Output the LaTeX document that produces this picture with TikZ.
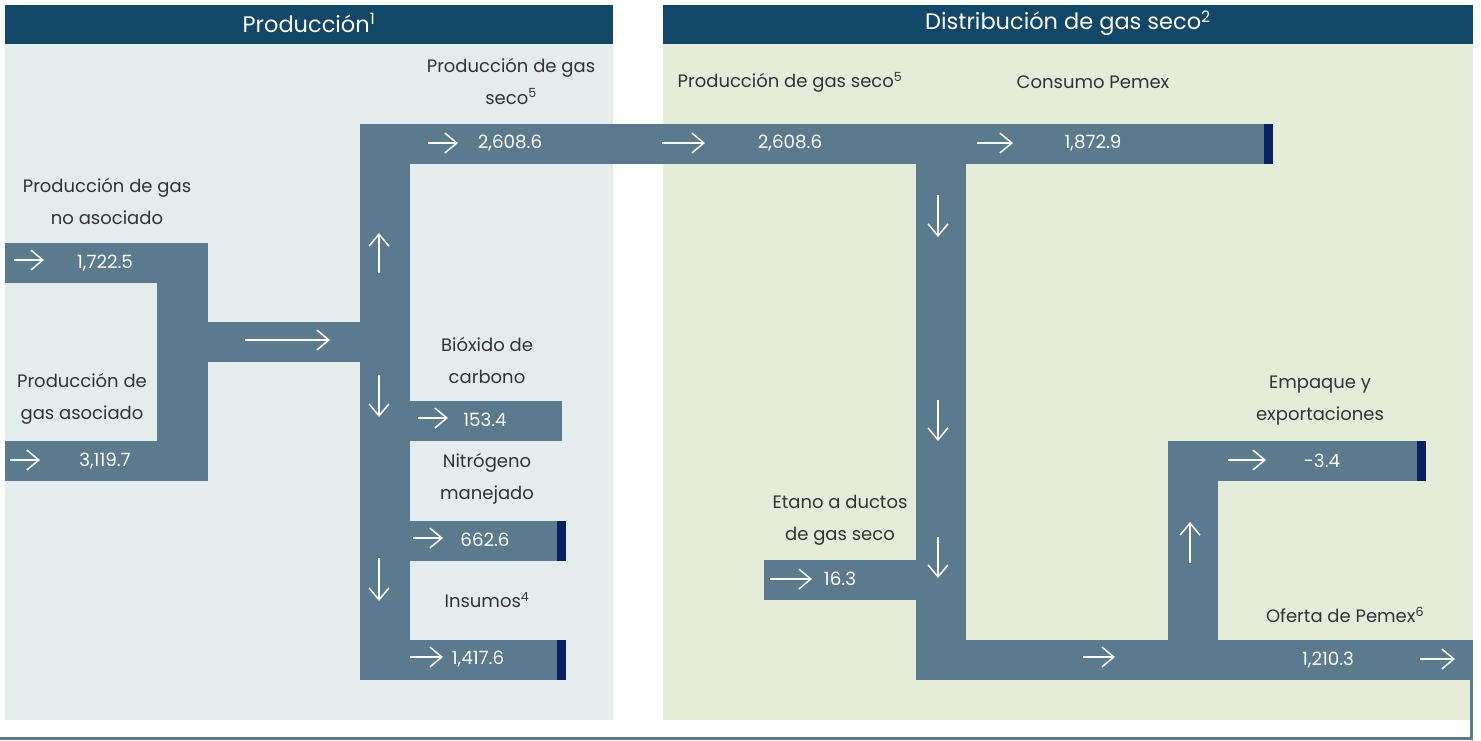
\documentclass[tikz,border=0pt]{standalone}
\usepackage{fontspec}
\setmainfont{Poppins}
\usetikzlibrary{arrows.meta}
\definecolor{headblue}{HTML}{134767}
\definecolor{prodbg}{HTML}{E5EDEC}
\definecolor{distbg}{HTML}{E6ECDA}
\definecolor{flowgray}{HTML}{5B7A8E}
\definecolor{capnavy}{HTML}{0A2160}
\definecolor{labelgray}{HTML}{333333}

\begin{document}
\begin{tikzpicture}[
    x=1pt, y=-1pt,
    band/.style={fill=flowgray},
    endcap/.style={fill=capnavy},
    flowarrow/.style={draw=white, line width=1.5pt, -{Straight Barb[length=12pt,width=20pt]}},
    label/.style={text=labelgray, font=\fontsize{18}{32}\selectfont, align=center, inner sep=0pt},
    value/.style={text=white, font=\fontsize{18.3}{20}\selectfont, inner sep=0pt},
    header/.style={text=white, font=\fontsize{22.5}{26}\selectfont, inner sep=0pt}
]
    \useasboundingbox (0,0) rectangle (1481,740);

    % panels
    \fill[headblue] (5,5) rectangle (613,44);
    \fill[prodbg] (5,44) rectangle (613,720);
    \fill[headblue] (663,5) rectangle (1473,44);
    \fill[distbg] (663,44) rectangle (1473,720);
    \fill[flowgray] (0,737) rectangle (1473,740);
    \fill[flowgray] (1470,680) rectangle (1473,740);

    \node[header] (prodhead) at (309,23) {Producción\textsuperscript{1}};
    \node[header] (disthead) at (1068,23) {Distribución de gas seco\textsuperscript{2}};

    % production bands
    \fill[band] (5,243) rectangle (208,283);
    \fill[band] (5,441) rectangle (208,481);
    \fill[band] (157,243) rectangle (208,481);
    \fill[band] (208,322) rectangle (360,362);
    \fill[band] (360,124) rectangle (410,680);
    \fill[band] (360,124) rectangle (1264,164);
    \fill[band] (360,401) rectangle (562,441);
    \fill[band] (360,521) rectangle (557,561);
    \fill[band] (360,640) rectangle (557,680);
    \fill[endcap] (557,521) rectangle (566,561);
    \fill[endcap] (557,640) rectangle (566,680);
    \fill[endcap] (1264,124) rectangle (1273,164);

    % distribution bands
    \fill[band] (916,164) rectangle (966,680);
    \fill[band] (764,560) rectangle (916,600);
    \fill[band] (916,640) rectangle (1473,680);
    \fill[band] (1168,441) rectangle (1218,640);
    \fill[band] (1168,441) rectangle (1417,481);
    \fill[endcap] (1417,441) rectangle (1426,481);

    % arrows
    \draw[flowarrow] (14,260) -- (44,260);
    \draw[flowarrow] (10,460) -- (40,460);
    \draw[flowarrow] (245,340) -- (330,340);
    \draw[flowarrow] (379,273) -- (379,233);
    \draw[flowarrow] (379,375) -- (379,417);
    \draw[flowarrow] (379,558) -- (379,601);
    \draw[flowarrow] (428,143) -- (458,143);
    \draw[flowarrow] (418,418) -- (448,418);
    \draw[flowarrow] (413,538) -- (443,538);
    \draw[flowarrow] (410,657) -- (443,657);
    \draw[flowarrow] (662,143) -- (705,143);
    \draw[flowarrow] (977,143) -- (1013,143);
    \draw[flowarrow] (938,195) -- (938,237);
    \draw[flowarrow] (938,400) -- (938,441);
    \draw[flowarrow] (938,537) -- (938,578);
    \draw[flowarrow] (770,579) -- (812,579);
    \draw[flowarrow] (1083,657) -- (1115,657);
    \draw[flowarrow] (1420,659) -- (1455,659);
    \draw[flowarrow] (1190,563) -- (1190,522);
    \draw[flowarrow] (1228,460) -- (1266,460);

    % values
    \node[value] (noasoc) at (105,263) {1,722.5};
    \node[value] (asoc) at (105,461) {3,119.7};
    \node[value] (secoprod) at (510,143) {2,608.6};
    \node[value] (secodist) at (790,143) {2,608.6};
    \node[value] (consumo) at (1093,143) {1,872.9};
    \node[value] (bioxido) at (485,420) {153.4};
    \node[value] (nitro) at (485,540) {662.6};
    \node[value] (insumos) at (478,659) {1,417.6};
    \node[value] (etano) at (840,579) {16.3};
    \node[value] (empaque) at (1322,461) {-3.4};
    \node[value] (oferta) at (1328,660) {1,210.3};

    % labels
    \node[label] (lsecoprod) at (511,81) {Producción de gas\\seco\textsuperscript{5}};
    \node[label] (lnoasoc) at (107,201) {Producción de gas\\no asociado};
    \node[label] (lasoc) at (82,399) {Producción de\\gas asociado};
    \node[label] (lbioxido) at (487,360) {Bióxido de\\carbono};
    \node[label] (lnitro) at (487,479) {Nitrógeno\\manejado};
    \node[label] (linsumos) at (487,600) {Insumos\textsuperscript{4}};
    \node[label] (lsecodist) at (790,82) {Producción de gas seco\textsuperscript{5}};
    \node[label] (lconsumo) at (1093,82) {Consumo Pemex};
    \node[label] (lempaque) at (1320,401) {Empaque y\\exportaciones};
    \node[label] (letano) at (840,520) {Etano a ductos\\de gas seco};
    \node[label] (loferta) at (1345,615) {Oferta de Pemex\textsuperscript{6}};
\end{tikzpicture}
\end{document}
